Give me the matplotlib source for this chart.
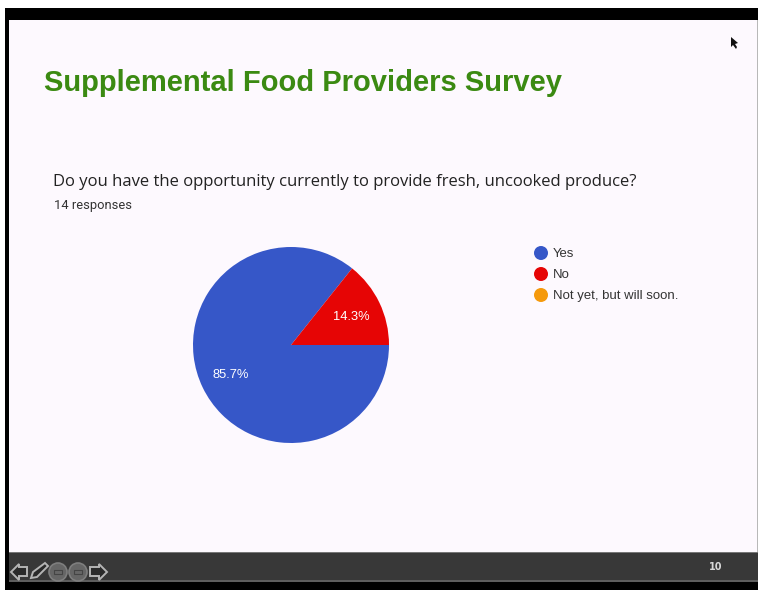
import matplotlib
matplotlib.use("Agg")
import matplotlib.pyplot as plt
from matplotlib.patches import Rectangle, Circle, Polygon

title = "Supplemental Food Providers Survey"
question = "Do you have the opportunity currently to provide fresh, uncooked produce?"
responses = "14 responses"
categories = ["Yes", "No", "Not yet, but will soon."]
counts = [12, 2, 0]
colors = ["#3657c8", "#e60505", "#f59a0c"]
page_number = "10"

W, H = 758, 590
fig = plt.figure(figsize=(W / 100, H / 100), dpi=100, facecolor="white")

bg = fig.add_axes([0, 0, 1, 1])
bg.set_xlim(0, W)
bg.set_ylim(H, 0)
bg.axis("off")


def rect(x0, y0, x1, y1, color, z=1):
    bg.add_patch(Rectangle((x0, y0), x1 - x0, y1 - y0, facecolor=color, edgecolor="none", zorder=z))


# screen frame
rect(5, 8, W, H, "#000000")
rect(9, 20, 757, 552, "#fdf9fe")
rect(757, 20, W, 552, "#b8b8b8")
rect(9, 552, W, 581, "#383838")
rect(9, 580, W, 581.5, "#5e5e5e")
rect(9, 551.5, W, 553, "#777777", 2)

bg.text(44, 83, title, fontsize=21, fontweight="bold", color="#3b8a12",
        family="Liberation Sans", va="center", ha="left")
bg.text(53, 182, question, fontsize=12, color="#222222",
        family="Open Sans", va="center", ha="left")
bg.text(54, 205, responses, fontsize=9.3, color="#333333",
        family="Roboto", va="center", ha="left")

# legend
for name, col, y in zip(categories, colors, [253, 274, 295]):
    bg.add_patch(Circle((541, y), 7, facecolor=col, edgecolor="none", zorder=3))
    bg.text(553, y + 1, name, fontsize=9.45, color="#333333", family="Liberation Sans",
            va="center", ha="left")

# toolbar icons
icon = dict(facecolor="#2a2a2a", edgecolor="#b4b4b4", linewidth=1.4, zorder=3)
bg.add_patch(Polygon([(11, 572), (19, 564), (19, 567), (27, 567), (27, 576), (19, 576), (19, 580)], closed=True, **icon))
bg.add_patch(Polygon([(31, 578), (33, 572), (45, 563), (48, 566), (37, 577)], closed=True, **icon))
for cx in (58, 78):
    bg.add_patch(Circle((cx, 572), 9, facecolor="#666666", edgecolor="#7e7e7e", linewidth=1.2, zorder=3))
    bg.add_patch(Rectangle((cx - 4, 570), 8, 4, facecolor="none", edgecolor="#444444", linewidth=0.8, zorder=4))
bg.add_patch(Polygon([(107, 572), (99, 564), (99, 567), (90, 567), (90, 576), (99, 576), (99, 580)], closed=True, **icon))
bg.text(716, 567, page_number, fontsize=7, fontweight="bold", color="#d8d8d8",
        family="DejaVu Sans", va="center", ha="center", zorder=3)

# mouse cursor
bg.add_patch(Polygon([(731, 37), (731, 47), (733, 45), (736, 49), (737, 47), (735, 44), (738, 43)],
                     closed=True, facecolor="#111111", edgecolor="none", zorder=3))

# pie
cx, cy, r = 291, 345, 98
pie_ax = fig.add_axes([(cx - r) / W, 1 - (cy + r) / H, 2 * r / W, 2 * r / H])
start = 360 * counts[1] / sum(counts)
wedges, _, autotexts = pie_ax.pie(
    counts, colors=colors, startangle=start, radius=1.0, counterclock=True,
    autopct=lambda p: f"{p:.1f}%" if p > 0 else "", pctdistance=0.68,
    textprops=dict(color="white", fontsize=9.3, family="Liberation Sans"),
)
pie_ax.set_xlim(-1, 1)
pie_ax.set_ylim(-1, 1)
pie_ax.set_aspect("equal")
for w in wedges:
    w.set_edgecolor("none")
for t in autotexts:
    t.set_y(t.get_position()[1] - 0.01)

fig.savefig("out.png", dpi=100)
